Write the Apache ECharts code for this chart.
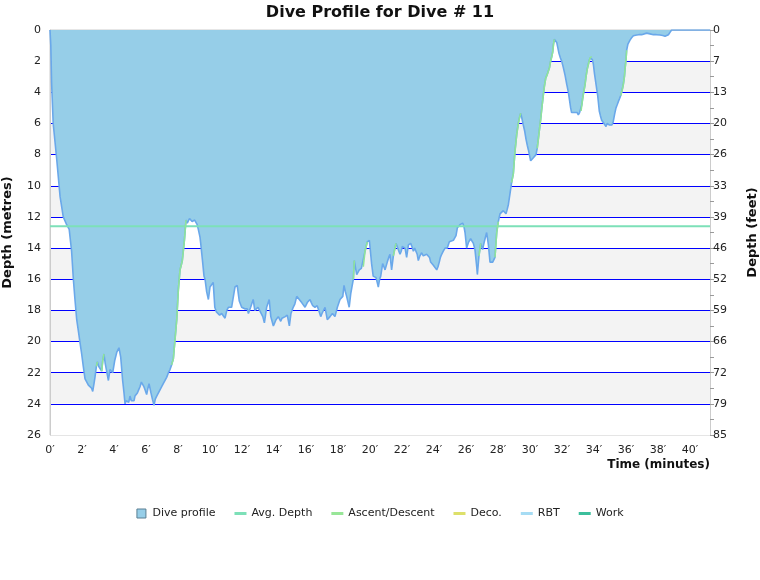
<!DOCTYPE html>
<html>
<head>
<meta charset="utf-8">
<title>Dive Profile</title>
<script src="https://cdn.jsdelivr.net/npm/echarts@6/dist/echarts.min.js"></script>
<style>
    html, body {margin: 0; padding: 0; background: #fff;}
    #main {width: 760px; height: 580px;}
</style>
</head>
<body>
<div id="main"></div>
<script>
//profile samples: time (minutes) and depth (metres)
var timeMin = [
    0, 0.05, 0.1, 0.2, 0.42, 0.63, 0.83, 1.04, 1.2, 1.35, 1.46, 1.56, 1.67, 1.77, 1.88, 1.98,
    2.08, 2.19, 2.3, 2.4, 2.5, 2.6, 2.67, 2.75, 2.81, 2.9, 2.96, 3.05, 3.125, 3.23, 3.3, 3.375,
    3.45, 3.54, 3.65, 3.75, 3.85, 3.92, 4.05, 4.17, 4.31, 4.42, 4.54, 4.625, 4.69, 4.76, 4.83, 4.92,
    5.0, 5.08, 5.17, 5.25, 5.31, 5.38, 5.46, 5.54, 5.625, 5.71, 5.79, 5.87, 5.94, 6.04, 6.12, 6.19,
    6.25, 6.31, 6.4, 6.5, 6.58, 6.67, 6.77, 6.875, 6.98, 7.08, 7.19, 7.29, 7.4, 7.5, 7.6, 7.71,
    7.81, 7.92, 8.02, 8.125, 8.2, 8.27, 8.33, 8.4, 8.5, 8.58, 8.65, 8.72, 8.79, 8.88, 8.96, 9.04,
    9.125, 9.2, 9.27, 9.375, 9.42, 9.54, 9.625, 9.69, 9.79, 9.9, 10.0, 10.1, 10.2, 10.3, 10.4, 10.5,
    10.6, 10.73, 10.84, 10.94, 11.05, 11.15, 11.25, 11.35, 11.46, 11.56, 11.7, 11.83, 11.98, 12.08, 12.17, 12.25,
    12.33, 12.4, 12.54, 12.62, 12.7, 12.8, 12.9, 13.0, 13.1, 13.2, 13.3, 13.4, 13.54, 13.7, 13.8, 13.88,
    13.96, 14.04, 14.125, 14.27, 14.42, 14.5, 14.58, 14.7, 14.83, 14.96, 15.06, 15.2, 15.3, 15.42, 15.5, 15.58,
    15.73, 15.85, 15.94, 16.08, 16.25, 16.33, 16.42, 16.56, 16.7, 16.83, 16.92, 17.0, 17.08, 17.19, 17.33, 17.42,
    17.5, 17.65, 17.81, 17.96, 18.125, 18.3, 18.375, 18.46, 18.54, 18.7, 18.8, 18.96, 19.02, 19.1, 19.17, 19.33,
    19.46, 19.58, 19.69, 19.83, 19.96, 20.1, 20.2, 20.375, 20.45, 20.52, 20.6, 20.67, 20.79, 20.87, 20.94, 21.08,
    21.17, 21.25, 21.35, 21.46, 21.54, 21.625, 21.77, 21.875, 21.95, 22.02, 22.1, 22.19, 22.29, 22.4, 22.54, 22.62,
    22.71, 22.79, 22.875, 22.95, 23.02, 23.12, 23.23, 23.33, 23.44, 23.54, 23.65, 23.72, 23.79, 23.88, 23.96, 24.06,
    24.17, 24.25, 24.33, 24.4, 24.48, 24.58, 24.69, 24.76, 24.83, 24.96, 25.08, 25.21, 25.3, 25.375, 25.46, 25.54,
    25.625, 25.71, 25.79, 25.87, 25.94, 26.04, 26.1, 26.17, 26.29, 26.38, 26.46, 26.56, 26.67, 26.71, 26.81, 26.92,
    27.04, 27.12, 27.19, 27.29, 27.4, 27.5, 27.58, 27.67, 27.75, 27.81, 27.92, 28.02, 28.125, 28.25, 28.33, 28.42,
    28.5, 28.58, 28.65, 28.75, 28.85, 28.96, 29.06, 29.17, 29.27, 29.35, 29.42, 29.5, 29.58, 29.67, 29.75, 29.83,
    29.9, 29.98, 30.04, 30.12, 30.21, 30.29, 30.375, 30.45, 30.52, 30.6, 30.67, 30.75, 30.83, 30.9, 30.98, 31.06,
    31.15, 31.22, 31.29, 31.36, 31.42, 31.47, 31.52, 31.6, 31.67, 31.75, 31.81, 31.9, 31.98, 32.08, 32.19, 32.3,
    32.4, 32.47, 32.54, 32.6, 32.67, 32.75, 32.875, 32.95, 33.02, 33.1, 33.19, 33.24, 33.29, 33.37, 33.44, 33.5,
    33.58, 33.67, 33.75, 33.85, 33.9, 33.96, 34.03, 34.1, 34.17, 34.23, 34.28, 34.33, 34.4, 34.48, 34.55, 34.625,
    34.69, 34.75, 34.82, 34.9, 34.97, 35.04, 35.12, 35.2, 35.29, 35.375, 35.45, 35.52, 35.6, 35.67, 35.75, 35.83,
    35.9, 35.94, 36.0, 36.04, 36.12, 36.25, 36.35, 36.46, 36.67, 36.8, 36.98, 37.1, 37.29, 37.5, 37.71, 37.9,
    38.125, 38.3, 38.44, 38.55, 38.65, 38.75, 38.85, 41.25
];
var depthM = [
    0, 1.0, 3.4, 6.0, 8.3, 10.7, 12.0, 12.5, 12.8, 14.2, 16.0, 17.3, 18.6, 19.3, 20.1, 20.8,
    21.6, 22.4, 22.6, 22.8, 22.9, 23.0, 23.2, 22.7, 22.3, 21.6, 21.3, 21.6, 21.7, 21.9, 21.2, 20.8,
    21.4, 21.9, 22.5, 21.8, 21.8, 22.0, 21.2, 20.7, 20.4, 21.0, 22.5, 23.3, 24.0, 23.8, 23.7, 23.9,
    23.5, 23.8, 23.7, 23.8, 23.5, 23.4, 23.3, 23.1, 22.9, 22.6, 22.5, 22.9, 23.1, 23.4, 23.0, 22.7,
    23.0, 23.3, 23.7, 24.1, 23.7, 23.5, 23.4, 23.1, 22.9, 22.7, 22.5, 22.3, 22.0, 21.8, 21.5, 21.1,
    19.9, 18.6, 16.7, 15.4, 15.1, 14.8, 14.2, 13.5, 12.2, 12.4, 12.3, 12.1, 12.0, 12.3, 12.4, 12.2,
    12.3, 12.5, 12.8, 13.3, 13.7, 14.9, 15.8, 16.0, 16.8, 17.3, 16.5, 16.4, 16.2, 17.8, 18.1, 18.1,
    18.3, 18.2, 18.3, 18.5, 18.0, 17.8, 17.9, 17.8, 17.7, 16.5, 16.4, 17.4, 17.8, 17.7, 17.9, 18.0,
    17.9, 18.2, 17.8, 17.8, 17.3, 18.0, 17.9, 17.8, 18.0, 18.1, 18.4, 18.8, 17.8, 17.3, 18.4, 18.7,
    19.0, 18.8, 18.6, 18.4, 18.7, 18.5, 18.4, 18.4, 18.3, 19.0, 18.2, 17.8, 17.6, 17.1, 17.2, 17.3,
    17.5, 17.6, 17.8, 17.5, 17.3, 17.5, 17.7, 17.8, 17.7, 18.1, 18.4, 18.2, 18.1, 17.8, 18.6, 18.5,
    18.4, 18.2, 18.4, 17.8, 17.3, 17.1, 16.4, 16.8, 17.1, 17.8, 16.9, 16.0, 14.8, 15.3, 15.7, 15.4,
    15.3, 15.2, 14.2, 13.6, 13.5, 15.0, 15.8, 15.9, 16.2, 16.5, 16.0, 15.8, 15.0, 15.2, 15.4, 14.9,
    14.6, 14.4, 15.4, 14.5, 14.1, 13.7, 14.1, 14.4, 14.2, 13.9, 14.0, 14.0, 14.6, 13.8, 13.7, 13.9,
    14.2, 14.0, 14.1, 14.4, 14.8, 14.5, 14.3, 14.5, 14.6, 14.4, 14.4, 14.6, 14.9, 14.9, 15.1, 15.2,
    15.4, 15.2, 14.9, 14.6, 14.4, 14.2, 14.0, 14.1, 14.0, 13.6, 13.5, 13.5, 13.4, 13.2, 12.7, 12.6,
    12.5, 12.4, 12.4, 12.6, 13.0, 14.0, 13.8, 13.6, 13.4, 13.5, 13.7, 14.1, 15.2, 15.7, 14.5, 13.7,
    14.1, 13.7, 13.4, 13.0, 13.8, 14.9, 15.0, 14.9, 14.8, 14.6, 13.0, 12.3, 11.8, 11.7, 11.6, 11.7,
    11.8, 11.5, 11.2, 10.5, 9.8, 9.2, 7.8, 6.7, 6.0, 5.6, 5.35, 5.7, 6.1, 6.5, 7.0, 7.4,
    7.7, 8.1, 8.4, 8.3, 8.2, 8.2, 8.0, 7.6, 7.0, 6.3, 5.7, 4.9, 4.2, 3.6, 3.1, 2.9,
    2.8, 2.4, 2.0, 1.7, 1.4, 0.9, 0.6, 0.7, 0.8, 1.2, 1.5, 1.8, 2.0, 2.4, 2.9, 3.5,
    4.0, 4.5, 5.0, 5.3, 5.35, 5.3, 5.2, 5.3, 5.45, 5.3, 5.2, 4.8, 4.4, 3.9, 3.5, 3.0,
    2.5, 2.1, 1.8, 1.7, 1.9, 2.2, 2.8, 3.3, 3.8, 4.2, 4.7, 5.2, 5.5, 5.8, 5.9, 6.0,
    6.1, 6.2, 6.0, 5.9, 6.1, 6.2, 6.1, 5.9, 5.4, 5.0, 4.8, 4.6, 4.4, 4.2, 3.9, 3.5,
    3.0, 2.5, 1.9, 1.3, 0.9, 0.65, 0.5, 0.37, 0.32, 0.3, 0.3, 0.25, 0.2, 0.25, 0.3, 0.3,
    0.32, 0.35, 0.4, 0.3, 0.3, 0.15, 0, 0
];
//平均深度
var avgDepth = 12.6;
//ascent stretches (minutes) drawn in green
var ascentRanges = [
    [2.9, 2.96], [3.23, 3.375], [7.6, 8.5], [18.96, 19.02], [19.58, 19.83], [21.46, 21.625],
    [26.81, 26.92], [27.81, 28.02], [28.85, 29.42], [30.45, 31.52], [33.19, 33.85], [35.67, 36.04]
];
var timeLabels = ["0′", "2′", "4′", "6′", "8′", "10′", "12′", "14′", "16′", "18′", "20′",
    "22′", "24′", "26′", "28′", "30′", "32′", "34′", "36′", "38′", "40′"];
var metreLabels = ["0", "2", "4", "6", "8", "10", "12", "14", "16", "18", "20", "22", "24", "26"];
var feetLabels = ["0", "7", "13", "20", "26", "33", "39", "46", "52", "59", "66", "72", "79", "85"];
var seriesNames = ["Dive profile", "Avg. Depth", "Ascent/Descent", "Deco.", "RBT", "Work"];
var seriesColors = ["#96cee8", "#7de0b8", "#98e698", "#dde06a", "#a6dcf4", "#3cbf9c"];

var font = "DejaVu Sans";
var lineIcon = "path://M0,0H12V3H0Z";
var myChart = echarts.init(document.getElementById('main'));

var profileData = [];
var ascentData = [];
timeMin.forEach(function (t, i) {
    profileData.push([t, depthM[i]]);
    var inAscent = false;
    ascentRanges.forEach(function (r) {
        if (t >= r[0] && t <= r[1]) {
            inAscent = true;
        }
    })
    ascentData.push(inAscent ? [t, depthM[i]] : [t, null]);
})
var endTime = timeMin[timeMin.length - 1];

//legend entries: a square for the profile, short bars for the lines
var legendData = seriesNames.map(function (name, i) {
    if (i == 0) {
        return {name: name, icon: "path://M0,0H10V10H0Z",
            itemStyle: {color: seriesColors[0], borderColor: "#5b7f93", borderWidth: 1}};
    }
    return {name: name, icon: lineIcon, itemStyle: {color: seriesColors[i]}};
})

option = {
    animation: false,
    backgroundColor: "#ffffff",
    title: {
        text: "Dive Profile for Dive # 11",
        left: "center",
        top: 0,
        textStyle: {fontFamily: font, fontSize: 16, fontWeight: "bold", color: "#111"}
    },
    grid: {left: 50, right: 50, top: 30, bottom: 145, containLabel: false, outerBoundsMode: "none",
        show: true, borderColor: "#cccccc", borderWidth: 1, backgroundColor: "transparent"},
    legend: {
        top: 503,
        left: "center",
        itemWidth: 12,
        itemHeight: 9,
        itemGap: 19,
        textStyle: {fontFamily: font, fontSize: 11, color: "#222"},
        data: legendData
    },
    graphic: [
        {
            type: "text",
            right: 50,
            top: 459,
            style: {text: "Time (minutes)", fontFamily: font, fontSize: 12, fontWeight: "bold", fill: "#111"}
        }
    ],
    xAxis: {
        type: "value",
        min: 0,
        max: endTime,
        interval: 2,
        axisLine: {show: true, lineStyle: {color: "#cccccc"}},
        axisTick: {show: false},
        splitLine: {show: false},
        axisLabel: {
            fontFamily: font, fontSize: 11, color: "#222", margin: 10, showMaxLabel: false,
            formatter: function (v) {
                return timeLabels[Math.round(v / 2)] || "";
            }
        }
    },
    yAxis: [
        {
            type: "value",
            inverse: true,
            min: 0,
            max: 26,
            interval: 2,
            name: "Depth (metres)",
            nameLocation: "middle",
            nameRotate: 90,
            nameGap: 36,
            nameTextStyle: {fontFamily: font, fontSize: 13, fontWeight: "bold", color: "#111"},
            axisLine: {show: true, lineStyle: {color: "#cccccc"}},
            axisTick: {show: false},
            axisLabel: {
                fontFamily: font, fontSize: 11, color: "#222", margin: 9,
                formatter: function (v) {
                    return metreLabels[Math.round(v / 2)];
                }
            },
            splitLine: {show: true, showMinLine: false, showMaxLine: false,
                lineStyle: {color: "#0000ff", width: 1}},
            splitArea: {show: true, areaStyle: {color: ["#ffffff", "#f3f3f3"]}}
        },
        {
            //feet scale, one tick per metre, label every 2 m
            type: "value",
            inverse: true,
            position: "right",
            min: 0,
            max: 26,
            interval: 1,
            name: "Depth (feet)",
            nameLocation: "middle",
            nameRotate: 90,
            nameGap: 36,
            nameTextStyle: {fontFamily: font, fontSize: 13, fontWeight: "bold", color: "#111"},
            axisLine: {show: true, lineStyle: {color: "#cccccc"}},
            axisTick: {show: true, length: 4, lineStyle: {color: "#999999"}},
            axisLabel: {
                fontFamily: font, fontSize: 11, color: "#222", margin: 3,
                formatter: function (v) {
                    if (v % 2 != 0) {
                        return "";
                    }
                    return feetLabels[Math.round(v / 2)];
                }
            },
            splitLine: {show: false},
            minorSplitLine: {show: false},
            splitArea: {show: false}
        }
    ],
    series: [
        {
            name: seriesNames[0],
            type: "line",
            symbol: "none",
            data: profileData,
            lineStyle: {color: "#6aa8ea", width: 1.6},
            itemStyle: {color: seriesColors[0]},
            areaStyle: {color: seriesColors[0], opacity: 1},
            z: 2
        },
        {
            name: seriesNames[1],
            type: "line",
            symbol: "none",
            data: [[0, avgDepth], [endTime, avgDepth]],
            lineStyle: {color: seriesColors[1], width: 2},
            itemStyle: {color: seriesColors[1]},
            z: 3
        },
        {
            name: seriesNames[2],
            type: "line",
            symbol: "none",
            connectNulls: false,
            data: ascentData,
            lineStyle: {color: "#90e49a", width: 1.6},
            itemStyle: {color: seriesColors[2]},
            z: 4
        },
        {name: seriesNames[3], type: "line", symbol: "none", data: [],
            lineStyle: {color: seriesColors[3], width: 2}, itemStyle: {color: seriesColors[3]}},
        {name: seriesNames[4], type: "line", symbol: "none", data: [],
            lineStyle: {color: seriesColors[4], width: 2}, itemStyle: {color: seriesColors[4]}},
        {name: seriesNames[5], type: "line", symbol: "none", data: [],
            lineStyle: {color: seriesColors[5], width: 2}, itemStyle: {color: seriesColors[5]}}
    ]
};
myChart.setOption(option);
</script>
</body>
</html>
